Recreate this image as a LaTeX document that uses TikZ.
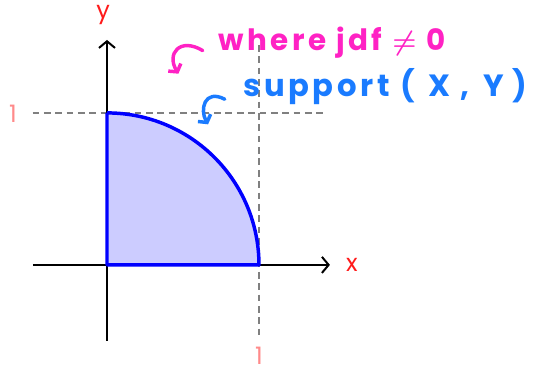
\documentclass[tikz,border=0pt]{standalone}
\usepackage{amsmath}
\usepackage{fontspec}
\newfontfamily\handfont{Poppins}
\newfontfamily\notefont[LetterSpace=12]{Poppins}
\usetikzlibrary{arrows.meta, positioning}
\definecolor{notepink}{HTML}{FF22C4}
\definecolor{noteblue}{HTML}{1A7BFF}
\definecolor{labelred}{HTML}{FF1A1A}
\definecolor{tickred}{HTML}{FF8A8A}
\definecolor{regionfill}{HTML}{CCCCFF}

\begin{document}
\begin{tikzpicture}[x=4cm,y=4cm,
  axis/.style={line width=1.5pt,-{Straight Barb[length=5pt,width=12pt]}},
  guide/.style={dashed,dash pattern=on 5pt off 3.5pt,gray,line width=1.2pt},
  boundary/.style={blue,line width=2.6pt,line join=round},
  hook/.style={line width=2.6pt,line cap=round,-{Straight Barb[length=4pt,width=11pt]}},
  label/.style={font=\handfont\fontsize{18}{20}\selectfont},
  note/.style={font=\notefont\bfseries\fontsize{22}{24}\selectfont}]
  \useasboundingbox (-0.704,-0.704) rectangle (2.836,1.743);

  % Origin and axis ends
  \coordinate (O) at (0,0);
  \coordinate (xL) at (-0.487,0);
  \coordinate (xR) at (1.467,0);
  \coordinate (yB) at (0,-0.5);
  \coordinate (yT) at (0,1.48);

  % Dashed guides at x=1 and y=1
  \coordinate (gTop) at (1,1.447);
  \coordinate (gBot) at (1,-0.49);
  \coordinate (gLeft) at (-0.49,1);
  \coordinate (gRight) at (1.447,1);
  \draw[guide] (gTop) -- (gBot);
  \draw[guide] (gLeft) -- (gRight);

  % Axes
  \draw[axis] (xL) -- (xR);
  \draw[axis] (yB) -- (yT);

  % Quarter disc
  \fill[regionfill] (O) -- (1,0) arc (0:90:1) -- cycle;
  \draw[boundary] (0,1) -- (O) -- (1,0) arc (0:90:1);

  % Axis labels
  \node[label,text=labelred] (xlab) at (1.612,0) {x};
  \node[label,text=labelred] (ylab) at (-0.026,1.645) {y};
  \node[label,text=tickred] (onex) at (1,-0.6) {1};
  \node[label,text=tickred] (oney) at (-0.618,0.993) {1};

  % Notes
  \node[note,text=notepink] (where) at (1.480,1.461) {where jdf $\boldsymbol{\neq}$ 0};
  \node[note,text=noteblue,font=\notefont\bfseries\fontsize{23}{26}\selectfont] (supp) at (1.83,1.171) {support (\;\,X ,\;\,Y\;)};

  % Hook arrows
  \coordinate (pinkA) at (0.63,1.41);
  \coordinate (pinkB) at (0.47,1.258);
  \draw[hook,notepink] (pinkA) .. controls (0.48,1.50) and (0.39,1.39) .. (pinkB);
  \coordinate (blueA) at (0.775,1.09);
  \coordinate (blueB) at (0.665,0.925);
  \draw[hook,noteblue] (blueA) .. controls (0.64,1.16) and (0.61,1.02) .. (blueB);
\end{tikzpicture}
\end{document}
